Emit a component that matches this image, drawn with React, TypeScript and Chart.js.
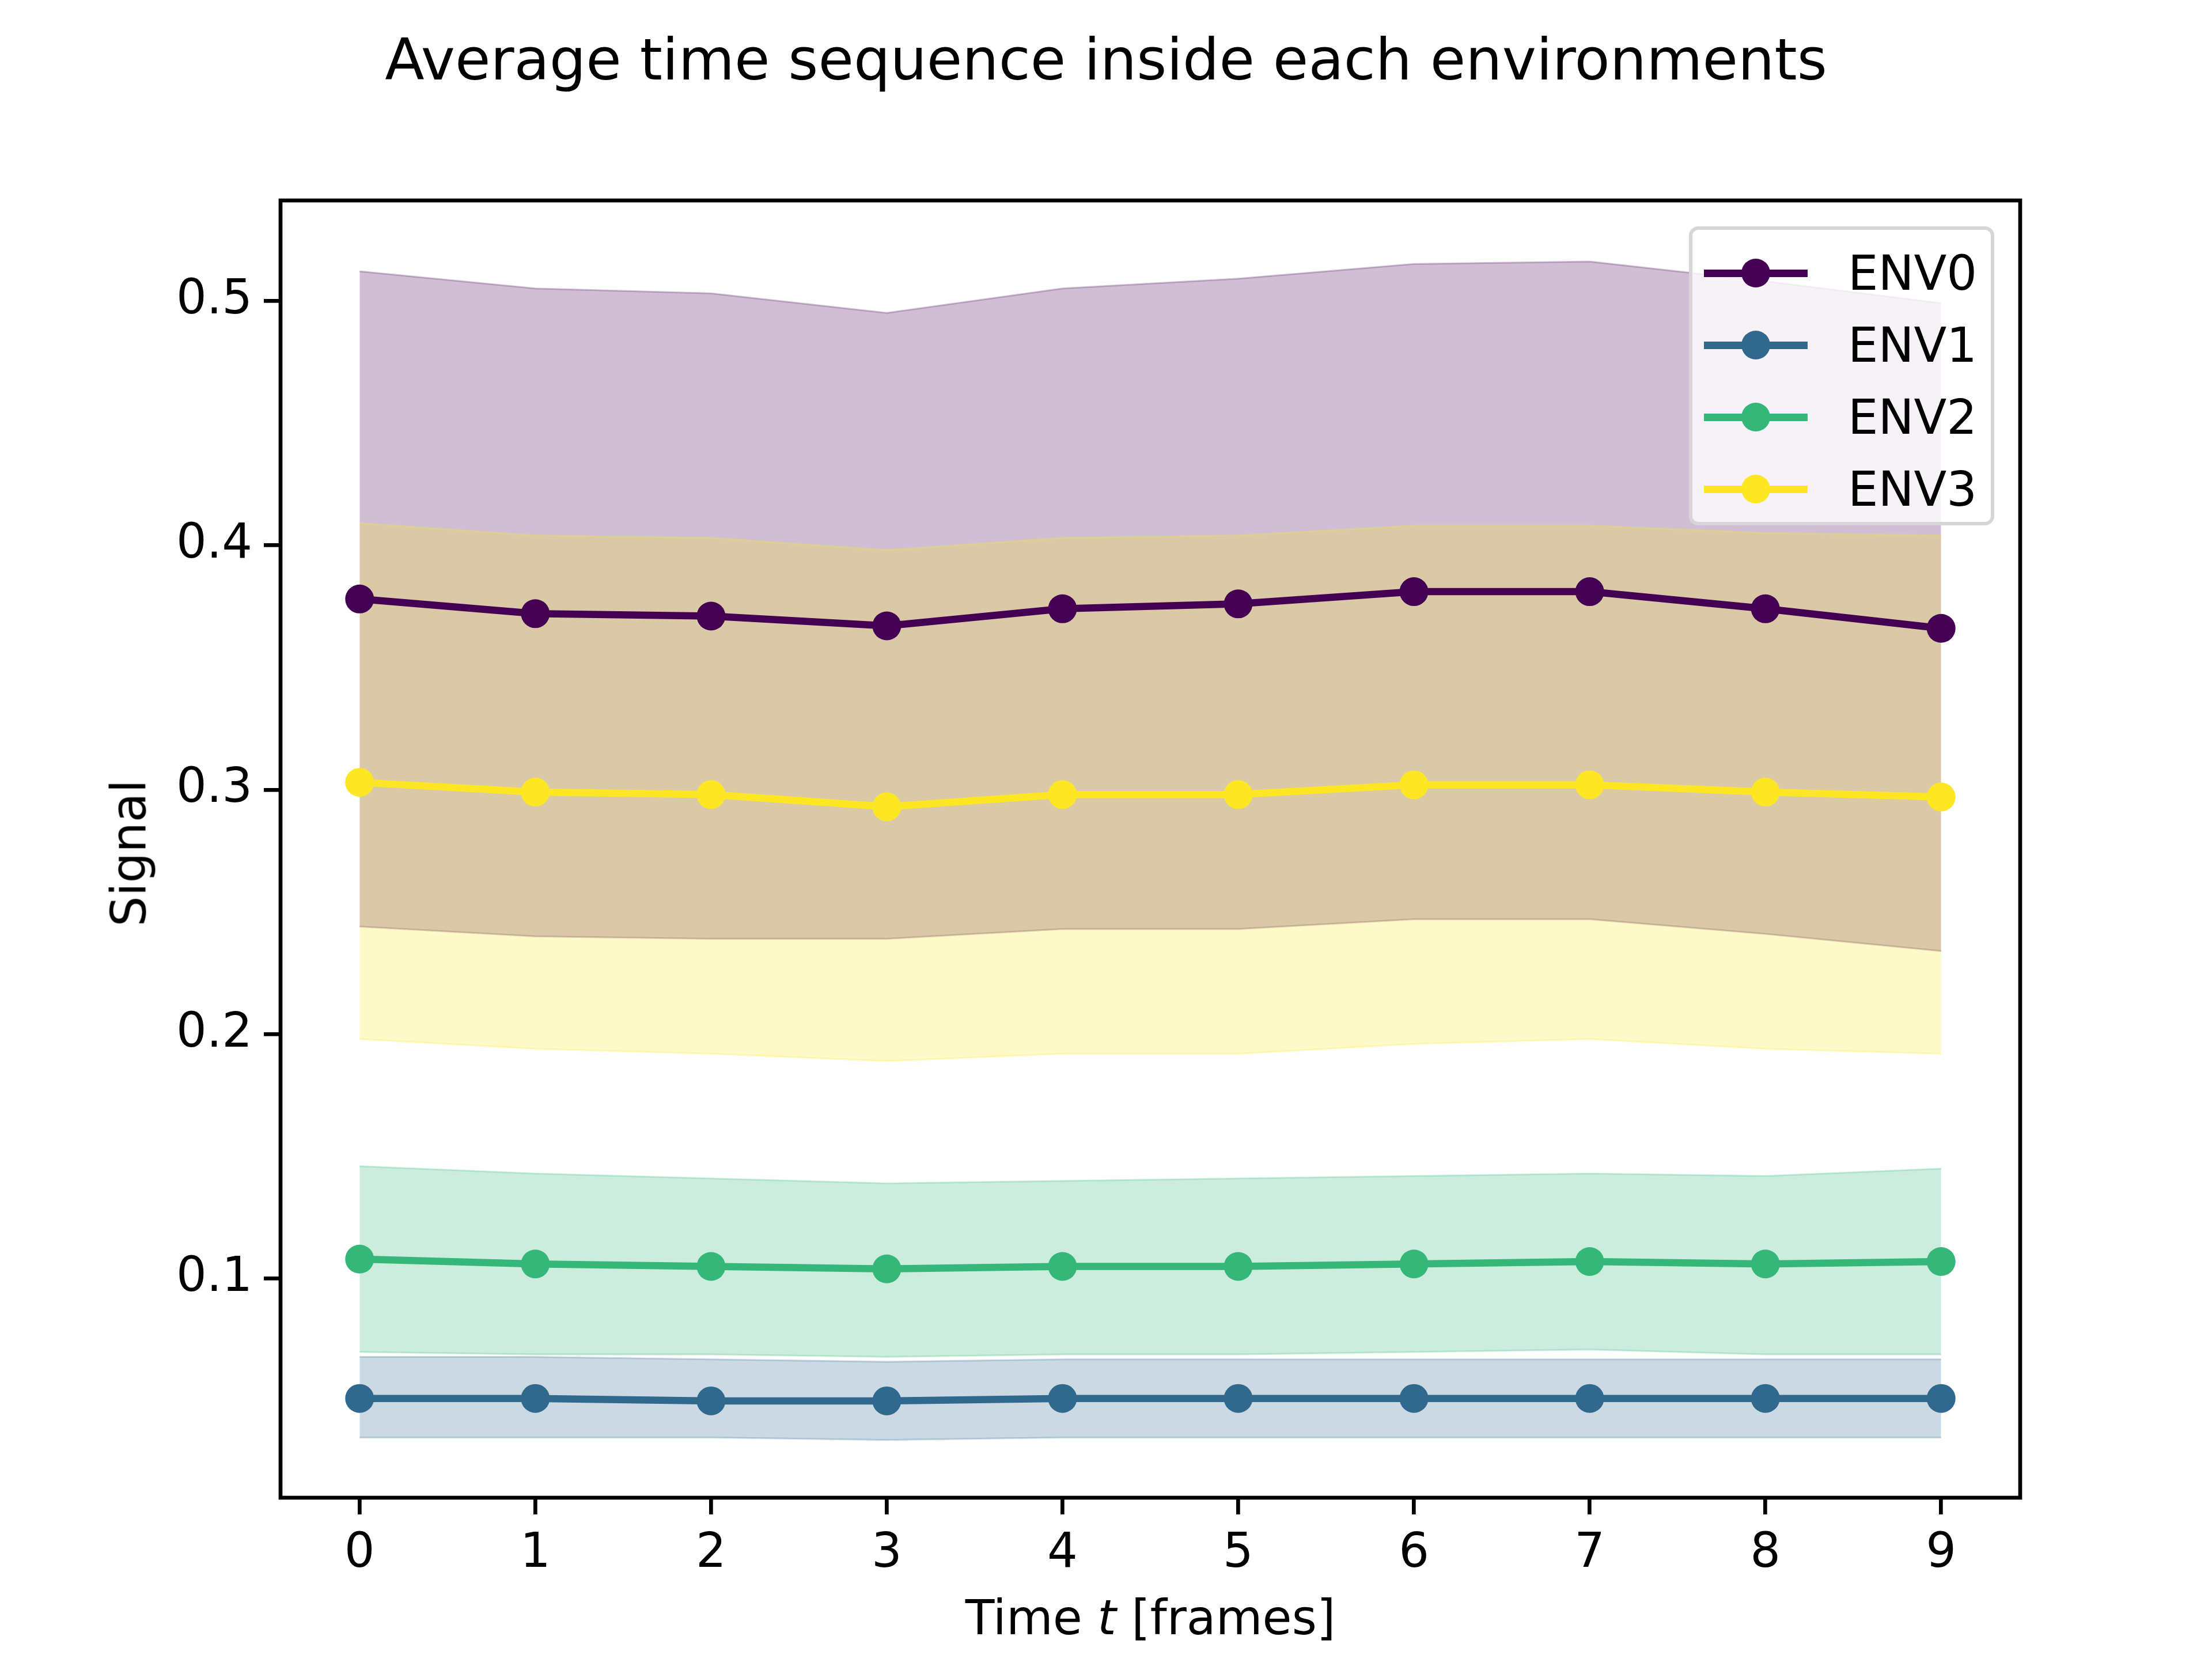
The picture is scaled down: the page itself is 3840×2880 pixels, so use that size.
import { useEffect, useRef } from "react";
import Chart from "chart.js/auto";

const frames = [0, 1, 2, 3, 4, 5, 6, 7, 8, 9];
const envNames = ["ENV0", "ENV1", "ENV2", "ENV3"];
const envColors = ["#440154", "#31688e", "#35b779", "#fde725"];
const envFills = ["rgba(68,1,84,0.25)", "rgba(49,104,142,0.25)", "rgba(53,183,121,0.25)", "rgba(253,231,37,0.25)"];

const env0Mean = [0.378, 0.372, 0.371, 0.367, 0.374, 0.376, 0.381, 0.381, 0.374, 0.366];
const env0Upper = [0.512, 0.505, 0.503, 0.495, 0.505, 0.509, 0.515, 0.516, 0.508, 0.499];
const env0Lower = [0.244, 0.24, 0.239, 0.239, 0.243, 0.243, 0.247, 0.247, 0.241, 0.234];
const env1Mean = [0.051, 0.051, 0.05, 0.05, 0.051, 0.051, 0.051, 0.051, 0.051, 0.051];
const env1Upper = [0.068, 0.068, 0.067, 0.066, 0.067, 0.067, 0.067, 0.067, 0.067, 0.067];
const env1Lower = [0.035, 0.035, 0.035, 0.034, 0.035, 0.035, 0.035, 0.035, 0.035, 0.035];
const env2Mean = [0.108, 0.106, 0.105, 0.104, 0.105, 0.105, 0.106, 0.107, 0.106, 0.107];
const env2Upper = [0.146, 0.143, 0.141, 0.139, 0.14, 0.141, 0.142, 0.143, 0.142, 0.145];
const env2Lower = [0.07, 0.069, 0.069, 0.068, 0.069, 0.069, 0.07, 0.071, 0.069, 0.069];
const env3Mean = [0.303, 0.299, 0.298, 0.293, 0.298, 0.298, 0.302, 0.302, 0.299, 0.297];
const env3Upper = [0.409, 0.404, 0.403, 0.398, 0.403, 0.404, 0.408, 0.408, 0.405, 0.404];
const env3Lower = [0.198, 0.194, 0.192, 0.189, 0.192, 0.192, 0.196, 0.198, 0.194, 0.192];

const means = [env0Mean, env1Mean, env2Mean, env3Mean];
const uppers = [env0Upper, env1Upper, env2Upper, env3Upper];
const lowers = [env0Lower, env1Lower, env2Lower, env3Lower];

const FONT = "'DejaVu Sans', sans-serif";

const toPts = (ys: number[]) => frames.map((x, i) => ({ x, y: ys[i] }));

const App = () => {
  const canvasRef = useRef<HTMLCanvasElement | null>(null);

  useEffect(() => {
    if (!canvasRef.current) return;
    const datasets: any[] = [];
    envNames.forEach((name, k) => {
      datasets.push({
        label: name + " upper",
        data: toPts(uppers[k]),
        borderColor: envFills[k],
        borderWidth: 3,
        backgroundColor: envFills[k],
        pointRadius: 0,
        fill: "+1",
        order: 13 - k,
      });
      datasets.push({
        label: name + " lower",
        data: toPts(lowers[k]),
        borderColor: envFills[k],
        borderWidth: 3,
        pointRadius: 0,
        fill: false,
        order: 13 - k,
      });
    });
    envNames.forEach((name, k) => {
      datasets.push({
        label: name,
        data: toPts(means[k]),
        borderColor: envColors[k],
        backgroundColor: envColors[k],
        borderWidth: 12.5,
        pointRadius: 25,
        pointBorderWidth: 0,
        fill: false,
        order: 4 - k,
      });
    });

    const frame = {
      id: "frame",
      afterDraw(c: any) {
        const { left, right, top, bottom } = c.chartArea;
        const ctx = c.ctx;
        ctx.save();
        ctx.strokeStyle = "#000";
        ctx.lineWidth = 6.7;
        ctx.strokeRect(left, top, right - left, bottom - top);
        ctx.restore();
      },
    };

    const chart = new Chart(canvasRef.current, {
      type: "line",
      data: { datasets },
      plugins: [frame],
      options: {
        animation: false,
        responsive: false,
        devicePixelRatio: 1,
        layout: { padding: { top: 348, right: 333, left: 0, bottom: 0 } },
        plugins: { legend: { display: false }, tooltip: { enabled: false } },
        scales: {
          x: {
            type: "linear",
            min: -0.45,
            max: 9.45,
            afterBuildTicks: (s: any) => {
              s.ticks = frames.map((v) => ({ value: v }));
            },
            afterFit: (s: any) => {
              s.height = 280;
            },
            grid: { drawOnChartArea: false, tickLength: 29, color: "#000", lineWidth: 6.7 },
            border: { display: false },
            ticks: { color: "#000", font: { family: FONT, size: 83 }, padding: 20, maxRotation: 0 },
          },
          y: {
            type: "linear",
            min: 0.0104,
            max: 0.541,
            afterBuildTicks: (s: any) => {
              s.ticks = [0.1, 0.2, 0.3, 0.4, 0.5].map((v) => ({ value: v }));
            },
            afterFit: (s: any) => {
              s.width = 487;
            },
            grid: { drawOnChartArea: false, tickLength: 29, color: "#000", lineWidth: 6.7 },
            border: { display: false },
            ticks: {
              color: "#000",
              font: { family: FONT, size: 83 },
              padding: 20,
              callback: (v: any) => Number(v).toFixed(1),
            },
          },
        },
      },
    });
    return () => chart.destroy();
  }, []);

  return (
    <div style={{ position: "relative", width: 3840, height: 2880, margin: -8, background: "#fff", fontFamily: FONT }}>
      <canvas ref={canvasRef} width={3840} height={2880} style={{ display: "block" }} />
      <div style={{ position: "absolute", top: 45, left: 0, width: 3840, textAlign: "center", fontSize: 100 }}>
        Average time sequence inside each environments
      </div>
      <div style={{ position: "absolute", top: 2760, left: 487, width: 3020, textAlign: "center", fontSize: 83 }}>
        Time <i>t</i> [frames]
      </div>
      <div
        style={{
          position: "absolute",
          left: 224,
          top: 1481,
          fontSize: 83,
          transform: "translate(-50%, -50%) rotate(-90deg)",
          whiteSpace: "nowrap",
        }}
      >
        Signal
      </div>
      <div
        style={{
          position: "absolute",
          left: 2932,
          top: 393,
          width: 530,
          height: 519,
          boxSizing: "border-box",
          border: "6px solid #d6d6d6",
          borderRadius: 16,
          background: "rgba(255,255,255,0.8)",
          fontSize: 83,
        }}
      >
        {envNames.map((name, k) => (
          <div key={name} style={{ position: "absolute", top: 20 + k * 125, left: 20, height: 110, display: "flex", alignItems: "center" }}>
            <div style={{ position: "relative", width: 180, height: 110 }}>
              <div style={{ position: "absolute", top: 49, left: 0, width: 180, height: 12.5, background: envColors[k] }} />
              <div style={{ position: "absolute", top: 30, left: 65, width: 50, height: 50, borderRadius: 25, background: envColors[k] }} />
            </div>
            <span style={{ marginLeft: 70 }}>{name}</span>
          </div>
        ))}
      </div>
    </div>
  );
};

export default App;
